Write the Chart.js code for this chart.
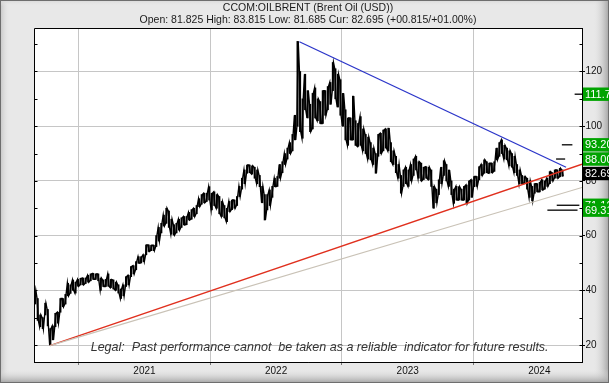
<!DOCTYPE html>
<html><head><meta charset="utf-8">
<script src="https://cdn.jsdelivr.net/npm/chart.js@4.4.1/dist/chart.umd.min.js"></script>
<style>html,body{margin:0;padding:0;background:#e8e8e8;}canvas{display:block;}</style>
</head><body>
<canvas id="c" width="609" height="383"></canvas>
<script>
// ---- texts ----
const titleText = 'CCOM:OILBRENT (Brent Oil (USD))';
const subtitleText = 'Open: 81.825 High: 83.815 Low: 81.685 Cur: 82.695 (+00.815/+01.00%)';
const legalText = 'Legal:  Past performance cannot  be taken as a reliable  indicator for future results.';

// ---- axes ----
const yearTicks = [2021, 2022, 2023, 2024];
const priceTicks = [20, 30, 40, 50, 60, 70, 80, 90, 100, 110, 120, 130];
const xMin = 2020.161, xMax = 2024.324;
const yMin = 13.8, yMax = 135.9;

// ---- weekly price ranges (low / high), first week starts early March 2020 ----
const firstWeek = 2020.17;
const low2020  = [35,29,26.7,26,31,27,20,21.9,26.7,28,32,34,35,38,38.9,40,39,41.5,42,42,42.5,43,43.5,44,44,43.5,40,41.4,41.4,41.5,41,40.5,40,39,37,38,41.4,42,45,46,47.5,49.9,50,50.5];
const high2020 = [40,37,31,30,35.3,33,26,27,31.6,32,37,37,38.5,42.6,42,43.8,43,44,44.4,44.5,44.5,45.5,46,46.2,46,46,44.5,43.8,44,46,44,43.8,43,42,40.5,42,45,45.5,48.7,49,50.5,52.3,52.3,53];
const low2021  = [53,54.2,54.5,54.5,56,58,61,63.5,64.5,63,60.5,60.2,61,62,63,63.9,64,65.7,66,67,68,70.6,71.5,72,72.5,73,69.4,71,70,68,67,66.5,65.1,68.8,69.5,70,71,74.3,77,79,82.8,83,82.5,81,79,77.9,72,65.7,69.4,71,74,77.9];
const high2021 = [56.6,56.6,56.5,56.5,60,63,64.5,67.5,70,69,66,64,64.5,66,66.5,67,67,68.5,69.5,70,71,73.5,75,75.5,75.5,77.9,75.5,76,75,74.3,72.5,71,70,72.5,73,73,74.3,78,81,84,85.8,85.8,85.5,85,84,82,78,75,75,76.7,78,81];
const low2022  = [78,81,83,86,88,90,91,95,100,98,95.6,106,103,98,99,103,102,101,101,104,106,108,113,110,107,104,100,95,93,95,95,93,92.6,93,91,90,88,87.7,86,82.8,89,90,91,92,91,87,86,83,81,75.5,78,79];
const high2022 = [81.6,86,87,90,92,94,97,104,131,120,110,119,113,108,112,114,110,109,113,113,114.5,116,123.3,121,119,117,112,106,103,103,111,102,101,103.5,99,97,96,94,92,90,97,97.4,98.6,99,99.3,94,91,89,86,82,84,85];
const low2023  = [78,80,82,84,81,80,80.5,81,80.5,78,70,72,75,79,82,80,78,75,71.8,73,73,73,73,71.8,73,74,77.9,78,80.4,82,82.8,83,82.8,83,83.5,87.7,89,90,88,87.7,85.5,85,83,82,79,79,79,77,74,72.7,75.5,76];
const high2023 = [84,86,88,89,87,86.5,85,85.2,85,84,78,77,80.4,85,87.4,86,84,80,77,78,77.9,77,78,78.5,80,80.4,81.6,81.6,85.2,86,87.7,87,86.5,86.5,87,92,94,95,93,92,91,90,89,86,84,82,81.6,81,80,78,79,79];
const low2024  = [76,76.7,77,78,79,80,81,81,81.5,81.7];
const high2024 = [79.5,80.4,80,81,83.4,83,84,84,84.6,84];

// ---- trend lines: [year, price] end points ----
const blueTrend = [[2022.177, 130.9], [2024.203, 85.0]];
const redTrend  = [[2020.282, 19.8], [2024.324, 86.1]];
const greyTrend = [[2020.282, 19.8], [2024.324, 77.6]];

// ---- target levels on the right ----
const levelValues = [111.7, 93.2, 88.0, 71.1, 69.31];
const levelLabels = ['111.7', '93.20', '88.00', '71.10', '69.31'];
const levelFrom   = [2024.268, 2024.171, 2024.127, 2024.132, 2024.061];
const levelTo     = [2024.324, 2024.251, 2024.196, 2024.304, 2024.290];
const currentValue = 82.69;
const currentLabel = '82.69';

// ---- build ----
const FONT = "'Liberation Sans', Arial, sans-serif";
const WEEK = 7 / 365.25;
const weekLow = [...low2020, ...low2021, ...low2022, ...low2023, ...low2024];
const weekHigh = [...high2020, ...high2021, ...high2022, ...high2023, ...high2024];
const weekX = weekLow.map((_, i) => firstWeek + i * WEEK);
// weekly range bars
const rangeBars = weekLow.map((lo, i) => ({ x: weekX[i], y: [lo, weekHigh[i]] }));
// each week's range also drawn as a down/up stroke (low and high of that week)
const pricePath = [];
weekLow.forEach((lo, i) => {
  pricePath.push({ x: weekX[i] - WEEK * 0.25, y: i % 2 ? weekHigh[i] : lo });
  pricePath.push({ x: weekX[i] + WEEK * 0.25, y: i % 2 ? lo : weekHigh[i] });
});
const toPts = arr => arr.map(p => ({ x: p[0], y: p[1] }));

const lineDs = (pts, color, w, order) => ({
  type: 'line', data: pts, borderColor: color, borderWidth: w,
  pointRadius: 0, tension: 0, fill: false, order: order
});

const datasets = [
  { type: 'bar', data: rangeBars, backgroundColor: '#000', borderWidth: 0, barThickness: 1.4, order: 3 },
  lineDs(pricePath, '#000', 1.4, 2),
  lineDs(toPts(greyTrend), '#c9c2b6', 1.2, 1),
  lineDs(toPts(redTrend), '#e0301e', 1.4, 1),
  lineDs(toPts(blueTrend), '#2b35c9', 1.2, 1)
];
levelValues.forEach((v, i) => {
  datasets.push(lineDs(toPts([[levelFrom[i], v], [levelTo[i], v]]), '#000', 1.3, 0));
});

const framePlugin = {
  id: 'frame',
  beforeDraw(chart) {
    const { ctx, width, height, chartArea: a } = chart;
    ctx.save();
    ctx.fillStyle = '#e8e8e8';
    ctx.fillRect(0, 0, width, height);
    let g = ctx.createLinearGradient(0, 0, 10, 0);
    g.addColorStop(0, '#c4c4c4'); g.addColorStop(1, 'rgba(232,232,232,0)');
    ctx.fillStyle = g; ctx.fillRect(0, 0, 10, height);
    g = ctx.createLinearGradient(0, 0, 0, 6);
    g.addColorStop(0, '#d6d6d6'); g.addColorStop(1, 'rgba(232,232,232,0)');
    ctx.fillStyle = g; ctx.fillRect(0, 0, width, 6);
    g = ctx.createLinearGradient(width - 16, 0, width, 0);
    g.addColorStop(0, 'rgba(232,232,232,0)'); g.addColorStop(1, '#a2a2a2');
    ctx.fillStyle = g; ctx.fillRect(width - 16, 0, 16, height);
    g = ctx.createLinearGradient(0, height - 14, 0, height);
    g.addColorStop(0, 'rgba(232,232,232,0)'); g.addColorStop(1, '#a2a2a2');
    ctx.fillStyle = g; ctx.fillRect(0, height - 14, width, 14);
    ctx.strokeStyle = '#6e6e6e'; ctx.lineWidth = 1;
    ctx.strokeRect(0.5, 0.5, width - 1, height - 1);
    ctx.fillStyle = '#fff';
    ctx.fillRect(a.left, a.top, a.right - a.left, a.bottom - a.top);
    ctx.restore();
  },
  beforeDatasetsDraw(chart) {
    const { ctx, chartArea: a } = chart;
    ctx.save();
    ctx.font = 'italic 12.5px ' + FONT;
    ctx.fillStyle = '#333';
    ctx.textBaseline = 'middle';
    ctx.textAlign = 'left';
    ctx.fillText(legalText, a.left + 56.7, a.bottom - 14);
    ctx.restore();
  },
  afterDraw(chart) {
    const { ctx, width, chartArea: a } = chart;
    const ys = chart.scales.y;
    ctx.save();
    ctx.strokeStyle = '#000'; ctx.lineWidth = 1;
    const L = Math.round(a.left) + 0.5, T = Math.round(a.top) + 0.5;
    const R = Math.round(a.right) + 0.5, B = Math.round(a.bottom) + 0.5;
    ctx.beginPath();
    ctx.moveTo(R, T); ctx.lineTo(L, T); ctx.lineTo(L, B); ctx.lineTo(R, B); ctx.lineTo(R, T);
    ctx.stroke();
    ctx.beginPath();
    priceTicks.forEach(v => {
      const y = Math.round(ys.getPixelForValue(v)) + 0.5;
      ctx.moveTo(L, y); ctx.lineTo(L + 3, y);
      ctx.moveTo(R - 3, y); ctx.lineTo(R, y);
    });
    ctx.stroke();
    ctx.font = '11px ' + FONT;
    ctx.textBaseline = 'middle';
    ctx.textAlign = 'left';
    const box = (v, label, bg) => {
      const y = ys.getPixelForValue(v);
      ctx.fillStyle = bg;
      ctx.fillRect(R + 0.5, y - 6.7, width - R, 13.4);
      ctx.fillStyle = '#fff';
      ctx.fillText(label, R + 2.5, y + 0.5);
    };
    levelValues.forEach((v, i) => box(v, levelLabels[i], '#00a300'));
    box(currentValue, currentLabel, '#000');
    ctx.restore();
  }
};

new Chart(document.getElementById('c'), {
  type: 'line',
  data: { datasets },
  plugins: [framePlugin],
  options: {
    responsive: false,
    animation: false,
    devicePixelRatio: 1,
    layout: { padding: { left: 34, right: 0, top: 0, bottom: 0 } },
    plugins: {
      legend: { display: false },
      tooltip: { enabled: false },
      title: {
        display: true, text: titleText, fullSize: false, color: '#1a1a1a',
        font: { family: FONT, size: 10.5, weight: 'normal' }, padding: { top: 1.7, bottom: 0 }
      },
      subtitle: {
        display: true, text: subtitleText, fullSize: false, color: '#1a1a1a',
        font: { family: FONT, size: 10.5, weight: 'normal' }, padding: { top: 0, bottom: 1.1 }
      }
    },
    scales: {
      x: {
        type: 'linear', min: xMin, max: xMax, offset: false,
        afterBuildTicks: s => { s.ticks = yearTicks.map(v => ({ value: v })); },
        afterFit: s => { s.height = 21; },
        grid: { color: '#c6c6c6', tickColor: '#777', tickLength: 3 },
        border: { display: true, color: '#000', width: 1 },
        ticks: { callback: v => String(v), autoSkip: false, maxRotation: 0, padding: 0,
                 color: '#111', font: { family: FONT, size: 10 } }
      },
      y: {
        type: 'linear', position: 'right', min: yMin, max: yMax,
        afterBuildTicks: s => { s.ticks = priceTicks.map(v => ({ value: v })); },
        afterFit: s => { s.width = 27; },
        grid: {
          color: c => (c.tick && c.tick.value % 20 === 0) ? '#c6c6c6' : 'rgba(0,0,0,0)',
          tickColor: c => (c.tick && c.tick.value % 20 === 0) ? '#000' : 'rgba(0,0,0,0)',
          tickLength: 3
        },
        border: { display: true, color: '#000', width: 1 },
        ticks: { callback: v => (v % 20 === 0 ? String(v) : ''), autoSkip: false, padding: 0.5,
                 color: '#111', font: { family: FONT, size: 10 } }
      }
    }
  }
});
</script>
</body></html>
